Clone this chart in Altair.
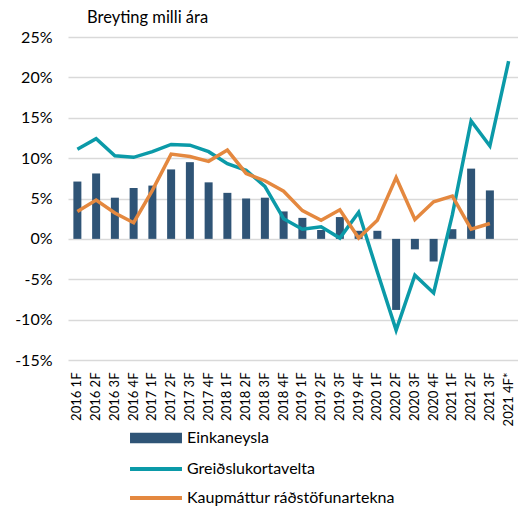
import altair as alt
import pandas as pd

cats = ["2016 1F", "2016 2F", "2016 3F", "2016 4F",
        "2017 1F", "2017 2F", "2017 3F", "2017 4F",
        "2018 1F", "2018 2F", "2018 3F", "2018 4F",
        "2019 1F", "2019 2F", "2019 3F", "2019 4F",
        "2020 1F", "2020 2F", "2020 3F", "2020 4F",
        "2021 1F", "2021 2F", "2021 3F", "2021 4F*"]
einkaneysla = [7.1, 8.1, 5.1, 6.3, 6.6, 8.6, 9.5, 7.0, 5.7, 5.0, 5.1, 3.4,
               2.6, 1.1, 2.7, 1.0, 1.0, -8.8, -1.3, -2.8, 1.2, 8.7, 6.0, None]
greidslukort = [11.1, 12.4, 10.3, 10.1, 10.8, 11.7, 11.6, 10.8, 9.3, 8.5, 6.5, 2.5,
                1.2, 1.5, 0.1, 3.3, -4.1, -11.3, -4.5, -6.7, 3.0, 14.6, 11.5, 22.0]
kaupmattur = [3.4, 4.8, 3.2, 2.0, 6.0, 10.5, 10.2, 9.6, 11.0, 8.1, 7.2, 5.9,
              3.5, 2.3, 3.6, 0.1, 2.3, 7.6, 2.4, 4.6, 5.3, 1.2, 1.9, None]
y_ticks = [-15, -10, -5, 0, 5, 10, 15, 20, 25]

S_BAR = "Einkaneysla"
S_KORT = "Greiðslukortavelta"
S_KAUP = "Kaupmáttur ráðstöfunartekna"

bars = pd.DataFrame({"cat": cats, "value": einkaneysla, "series": S_BAR}).dropna()
lines = pd.concat([
    pd.DataFrame({"cat": cats, "value": greidslukort, "series": S_KORT}),
    pd.DataFrame({"cat": cats, "value": kaupmattur, "series": S_KAUP}),
]).dropna()

FONT = "Lato"

x_scale = alt.Scale(domain=cats, paddingInner=0.58, paddingOuter=0.29)
y_scale = alt.Scale(domain=[-15, 25], nice=False)

x_axis = alt.Axis(title=None, labelAngle=-90, labelFontSize=13, labelFont=FONT,
                  labelColor="#000", domain=False, ticks=False, labelPadding=12,
                  grid=False)
y_axis = alt.Axis(title=None, values=y_ticks, labelExpr="datum.value + '%'",
                  labelFontSize=16, labelFont=FONT, labelColor="#000",
                  domain=False, ticks=False, labelPadding=16,
                  grid=True, gridColor="#D9D9D9", gridWidth=1.5)

bar_layer = alt.Chart(bars).mark_bar(size=8).encode(
    x=alt.X("cat:N", scale=x_scale, axis=x_axis, sort=cats),
    y=alt.Y("value:Q", scale=y_scale, axis=y_axis),
    fill=alt.Fill("series:N",
                  scale=alt.Scale(domain=[S_BAR], range=["#2F5476"]),
                  legend=alt.Legend(orient="none", legendX=80, legendY=393,
                                    title=None, symbolType="M-5,-1H5V1H-5Z",
                                    symbolSize=108, symbolStrokeWidth=0,
                                    labelFont=FONT, labelFontSize=16,
                                    labelColor="#000", labelOffset=23,
                                    labelLimit=400)),
)

line_layer = alt.Chart(lines).mark_line(strokeWidth=3.5).encode(
    x=alt.X("cat:N", scale=x_scale, sort=cats, bandPosition=0.5, axis=x_axis),
    y=alt.Y("value:Q", scale=y_scale, axis=y_axis),
    stroke=alt.Stroke("series:N",
                      scale=alt.Scale(domain=[S_KORT, S_KAUP],
                                      range=["#0B9AA8", "#E4883F"]),
                      legend=alt.Legend(orient="none", legendX=80, legendY=424,
                                        title=None, symbolType="M-5,0H5",
                                        symbolSize=108, symbolStrokeWidth=4,
                                        labelFont=FONT, labelFontSize=16,
                                        labelColor="#000", labelOffset=23,
                                        labelLimit=400, rowPadding=13)),
)

chart = alt.layer(bar_layer, line_layer).resolve_scale(
    fill="independent", stroke="independent"
).properties(
    width=450, height=323,
    autosize=alt.AutoSizeParams(type="none"),
    padding={"left": 60, "top": 29, "right": 0, "bottom": 147},
    title=alt.TitleParams("Breyting milli ára", anchor="start", frame="group",
                          dx=19, font=FONT, fontSize=16.5, fontWeight="normal",
                          color="#000", offset=3),
).configure_view(stroke=None)

chart.save("out.html", embed_options={"renderer": "svg", "actions": False})
